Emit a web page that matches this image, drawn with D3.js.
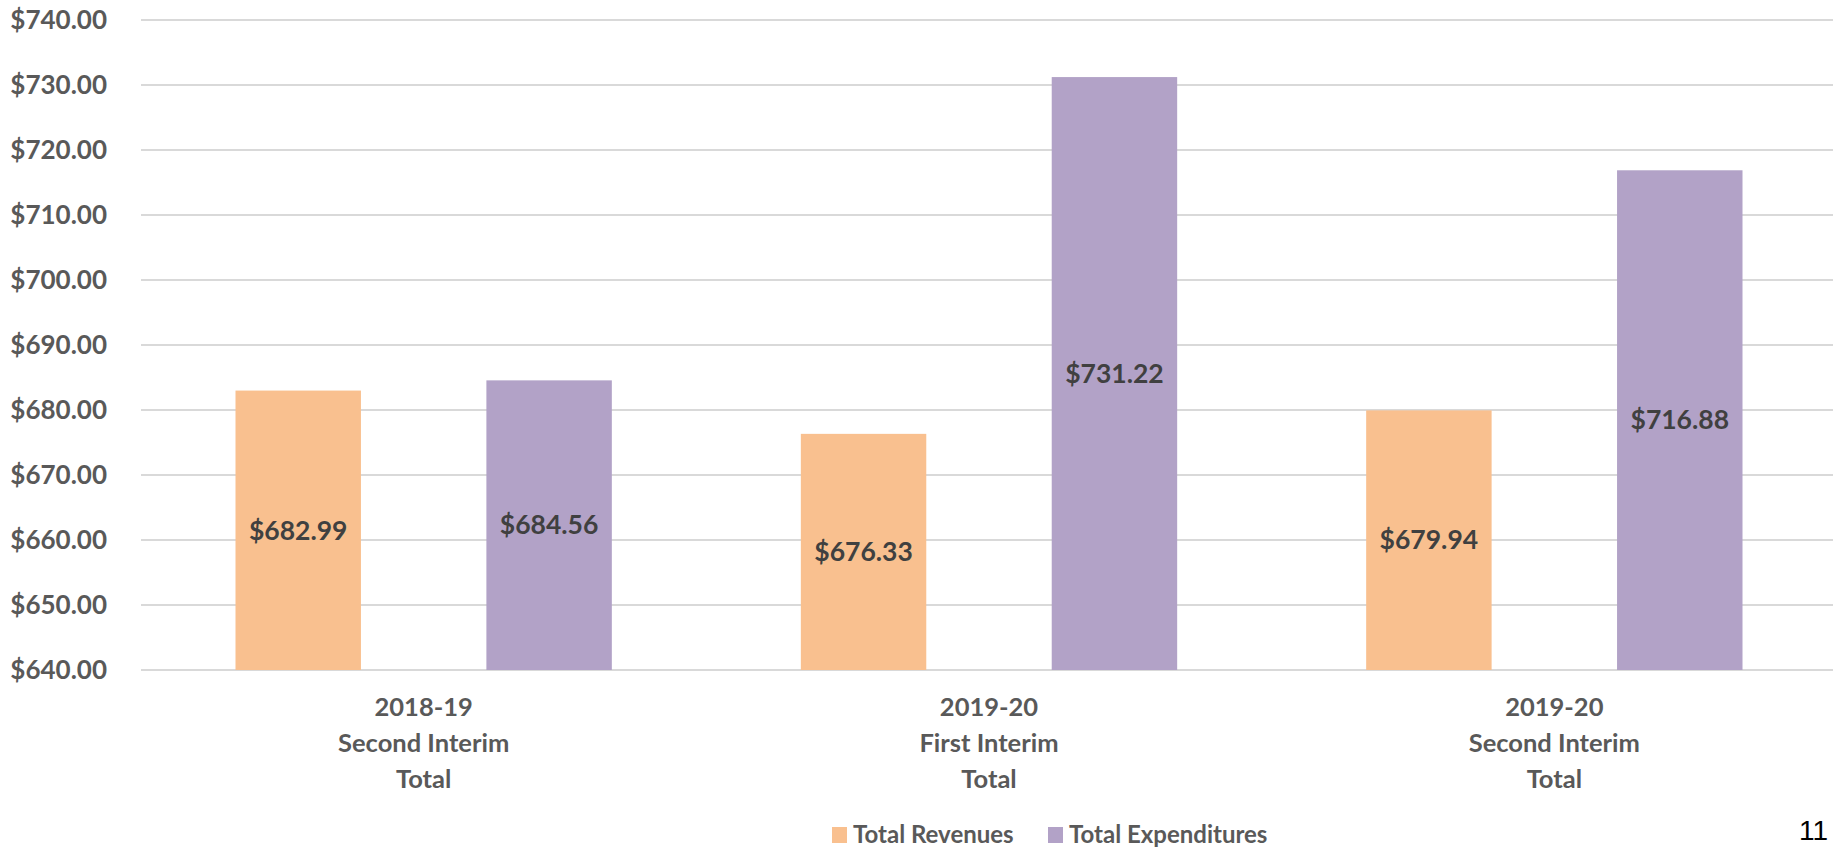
<!DOCTYPE html>
<html>
<head>
<meta charset="utf-8">
<script src="https://cdn.jsdelivr.net/npm/d3@7"></script>
<style>
  body { margin: 0; background: #fff; }
  svg { display: block; font-family: Lato, "Open Sans", sans-serif; font-weight: bold; }
</style>
</head>
<body>
<svg id="chart" width="1833" height="850"></svg>
<script>
const categories  = [['2018-19', 'Second Interim', 'Total'], ['2019-20', 'First Interim', 'Total'], ['2019-20', 'Second Interim', 'Total']];
const seriesNames = ['Total Revenues', 'Total Expenditures'];
const revenues    = [682.99, 676.33, 679.94];
const expenditures = [684.56, 731.22, 716.88];
const yTicks      = [640, 650, 660, 670, 680, 690, 700, 710, 720, 730, 740];
const colors      = ['#F9C08F', '#B2A2C7'];

const PLOT_LEFT   = 141;
const PLOT_RIGHT  = 1837;
const PLOT_TOP    = 20;
const PLOT_BOTTOM = 670;

const svg = d3.select('#chart');

const keys = categories.map((c, i) => i);

const x0 = d3.scaleBand()
    .domain(keys)
    .range([PLOT_LEFT, PLOT_RIGHT]);

const outer = 94.5;
const x1 = d3.scaleBand()
    .domain(seriesNames)
    .range([outer, x0.bandwidth() - outer])
    .paddingInner(0.5);

const y = d3.scaleLinear()
    .domain([640, 740])
    .range([PLOT_BOTTOM, PLOT_TOP]);

const money = d3.format('$,.2f');

// gridlines
svg.append('g')
    .selectAll('line')
    .data(yTicks)
    .join('line')
    .attr('x1', PLOT_LEFT)
    .attr('x2', 1833)
    .attr('y1', d => y(d))
    .attr('y2', d => y(d))
    .attr('stroke', '#D9D9D9')
    .attr('stroke-width', 2);

// y axis labels
svg.append('g')
    .selectAll('text')
    .data(yTicks)
    .join('text')
    .attr('x', 107)
    .attr('y', d => y(d))
    .attr('dy', '0.35em')
    .attr('text-anchor', 'end')
    .attr('font-size', 26)
    .attr('fill', '#595959')
    .text(d => money(d));

// bars
const rows = keys.map(i => ({ i, values: [revenues[i], expenditures[i]] }));

const groups = svg.append('g')
    .selectAll('g')
    .data(rows)
    .join('g')
    .attr('transform', d => `translate(${x0(d.i)},0)`);

const bars = groups.selectAll('g')
    .data(d => d.values.map((v, s) => ({ v, s })))
    .join('g');

bars.append('rect')
    .attr('x', d => x1(seriesNames[d.s]))
    .attr('width', x1.bandwidth())
    .attr('y', d => y(d.v))
    .attr('height', d => PLOT_BOTTOM - y(d.v))
    .attr('fill', d => colors[d.s]);

// value labels in the middle of each bar
bars.append('text')
    .attr('x', d => x1(seriesNames[d.s]) + x1.bandwidth() / 2)
    .attr('y', d => (y(d.v) + PLOT_BOTTOM) / 2)
    .attr('dy', '0.35em')
    .attr('text-anchor', 'middle')
    .attr('font-size', 26.5)
    .attr('fill', '#404040')
    .text(d => money(d.v));

// category labels
const catLabels = svg.append('g')
    .selectAll('text')
    .data(keys)
    .join('text')
    .attr('text-anchor', 'middle')
    .attr('font-size', 25.5)
    .attr('fill', '#595959');

catLabels.selectAll('tspan')
    .data(i => categories[i].map(line => ({ i, line })))
    .join('tspan')
    .attr('x', d => x0(d.i) + x0.bandwidth() / 2)
    .attr('y', (d, k) => 707 + k * 35.8)
    .attr('dy', '0.35em')
    .text(d => d.line);

// legend
const legendX = [832, 1048];
const legend = svg.append('g')
    .selectAll('g')
    .data(seriesNames)
    .join('g')
    .attr('transform', (d, i) => `translate(${legendX[i]},835)`);

legend.append('rect')
    .attr('x', 0)
    .attr('y', -8)
    .attr('width', 15)
    .attr('height', 16)
    .attr('fill', (d, i) => colors[i]);

legend.append('text')
    .attr('x', 21)
    .attr('dy', '0.35em')
    .attr('font-size', 24)
    .attr('fill', '#595959')
    .text(d => d);

// page number in the bottom right corner
svg.append('text')
    .attr('x', 1828)
    .attr('y', 840)
    .attr('text-anchor', 'end')
    .attr('font-family', '"Liberation Sans", sans-serif')
    .attr('font-weight', 'normal')
    .attr('font-size', 28)
    .attr('fill', '#000')
    .text('11');
</script>
</body>
</html>
